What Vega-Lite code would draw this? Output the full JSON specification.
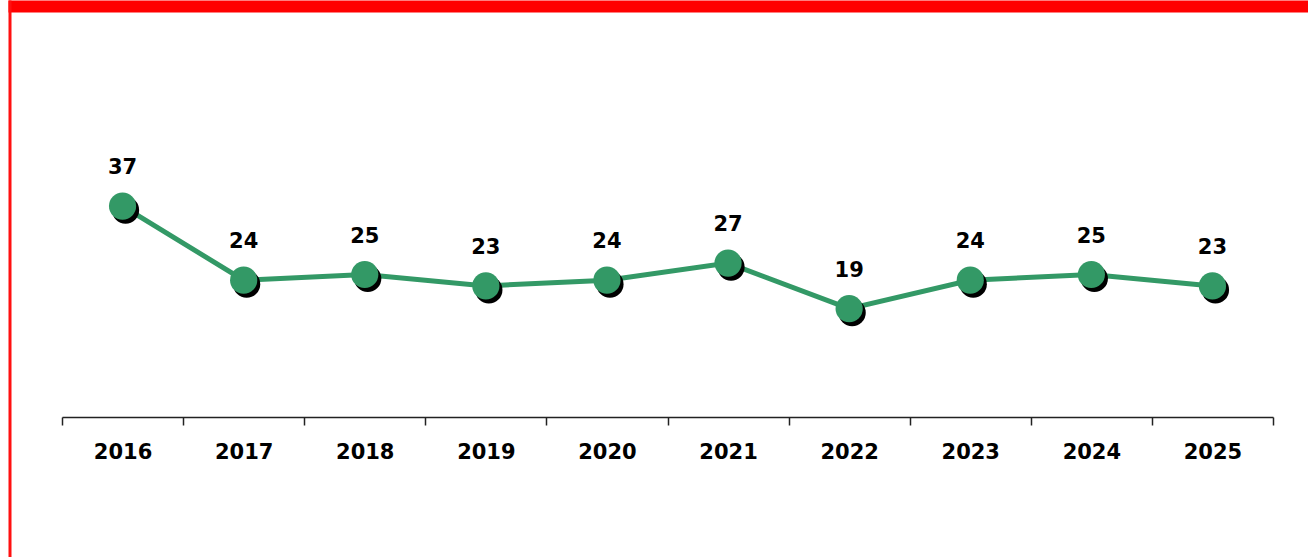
{
  "$schema": "https://vega.github.io/schema/vega-lite/v6.json",
  "autosize": "none",
  "width": 1211,
  "height": 399,
  "padding": {"left": 62, "top": 18, "right": 35, "bottom": 140},
  "background": "white",
  "config": {"view": {"stroke": null}, "font": "DejaVu Sans"},
  "datasets": {
    "series": [
      {"year": "2016", "value": 37},
      {"year": "2017", "value": 24},
      {"year": "2018", "value": 25},
      {"year": "2019", "value": 23},
      {"year": "2020", "value": 24},
      {"year": "2021", "value": 27},
      {"year": "2022", "value": 19},
      {"year": "2023", "value": 24},
      {"year": "2024", "value": 25},
      {"year": "2025", "value": 23}
    ],
    "frame": [{"f": 0}, {"f": 1}]
  },
  "layer": [
    {
      "data": {"name": "frame"},
      "mark": {"type": "point", "opacity": 0},
      "encoding": {
        "x": {
          "field": "f", "type": "quantitative",
          "scale": {"domain": [0, 1], "range": [-54, 1246], "nice": false, "zero": false},
          "axis": {"orient": "top", "domainColor": "#ff0000", "domainWidth": 12, "offset": 12, "ticks": false, "labels": false, "grid": false, "title": null}
        },
        "y": {
          "field": "f", "type": "quantitative",
          "scale": {"domain": [0, 1], "range": [539, -18], "nice": false, "zero": false},
          "axis": {"orient": "left", "domainColor": "#ff1010", "domainWidth": 3, "offset": 52.5, "ticks": false, "labels": false, "grid": false, "title": null}
        }
      }
    },
    {
      "data": {"name": "series"},
      "encoding": {
        "x": {
          "field": "year", "type": "ordinal",
          "scale": {"type": "band", "paddingInner": 0, "paddingOuter": 0},
          "axis": {"orient": "bottom", "tickBand": "extent", "domainColor": "#222222", "domainWidth": 1.5, "tickColor": "#222222", "tickWidth": 1.5, "tickSize": 8, "labelAngle": 0, "labelFontSize": 21, "labelFontWeight": "bold", "labelColor": "#000000", "labelPadding": 16, "grid": false, "title": null}
        },
        "y": {
          "field": "value", "type": "quantitative",
          "scale": {"domain": [0, 70], "nice": false},
          "axis": null
        }
      },
      "layer": [
        {"mark": {"type": "line", "color": "#339966", "strokeWidth": 5}, "encoding": {"x": {"field": "year", "type": "ordinal", "bandPosition": 0.5}}},
        {"mark": {"type": "point", "filled": true, "color": "#000000", "opacity": 1, "size": 740, "xOffset": 3, "yOffset": 4}},
        {"mark": {"type": "point", "filled": true, "color": "#339966", "opacity": 1, "size": 740}},
        {"mark": {"type": "text", "dy": -32, "baseline": "alphabetic", "fontSize": 21, "fontWeight": "bold", "color": "#000000"}, "encoding": {"text": {"field": "value", "type": "quantitative"}}}
      ]
    }
  ],
  "resolve": {"scale": {"x": "independent", "y": "independent"}, "axis": {"x": "independent", "y": "independent"}}
}
